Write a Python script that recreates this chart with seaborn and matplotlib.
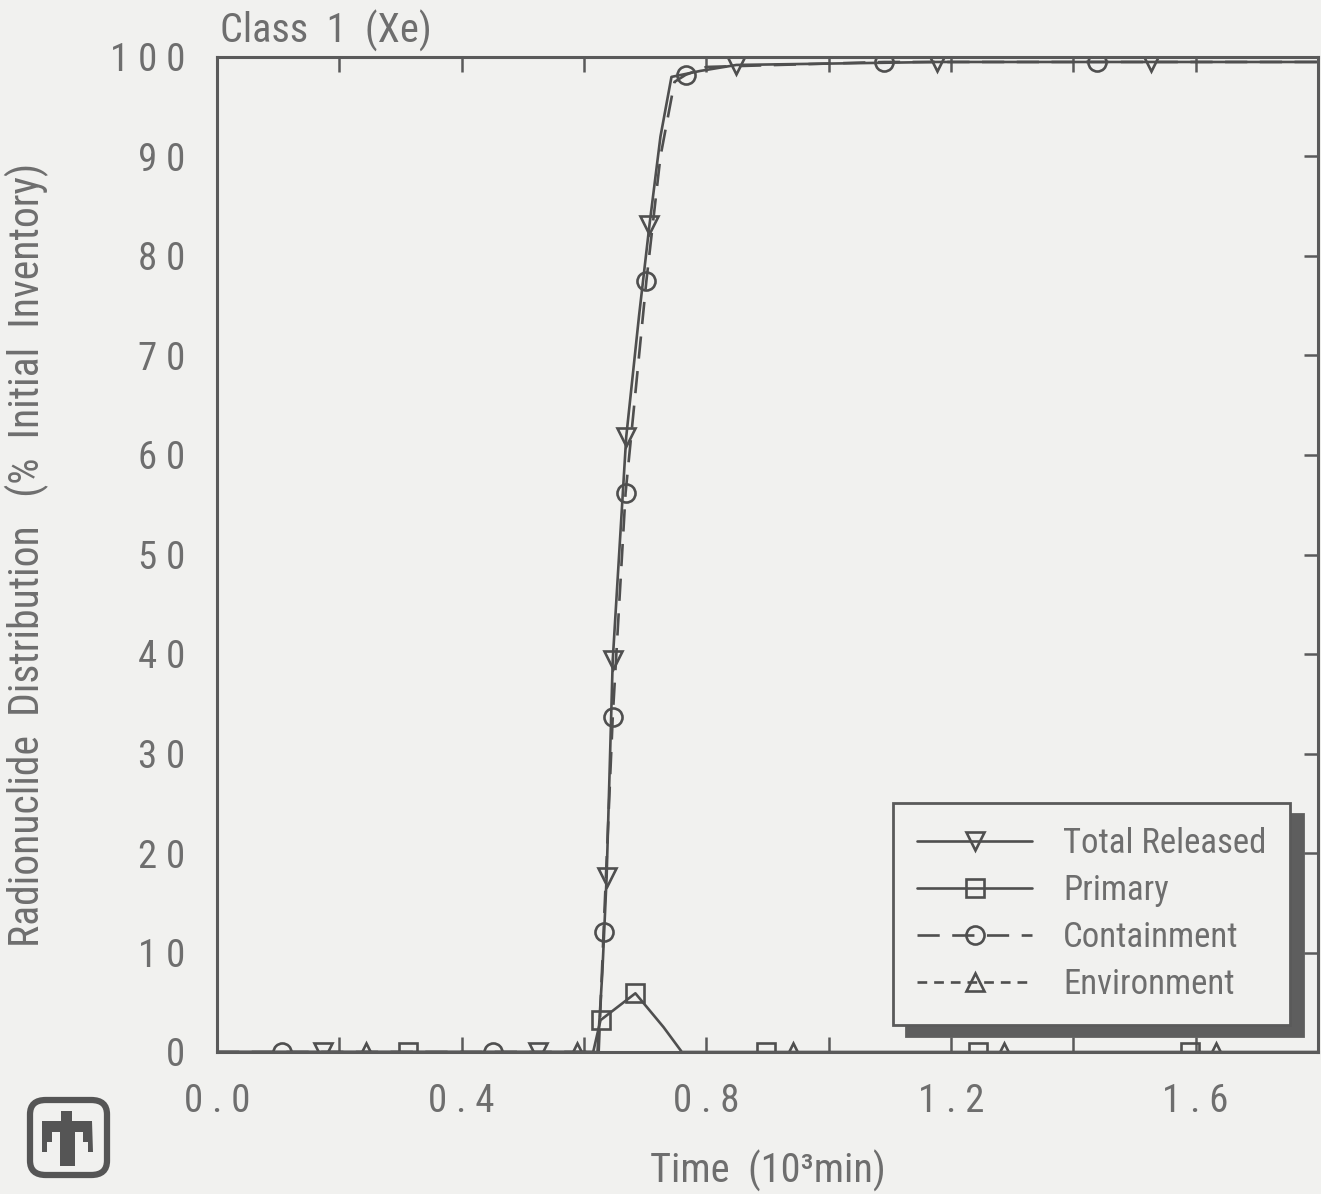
import matplotlib
matplotlib.use("Agg")
import matplotlib.pyplot as plt
from matplotlib import font_manager
from matplotlib.patches import FancyBboxPatch, Polygon
import seaborn as sns
import pandas as pd

# ---------------------------------------------------------------- data
# time in 10^3 min, value in % of initial inventory
total_t = [0.0, 0.173, 0.524, 0.622, 0.630, 0.637, 0.647, 0.669, 0.690, 0.707, 0.725, 0.743, 0.790, 0.849, 1.177, 1.527, 1.80]
total_v = [0.0, 0.0, 0.0, 0.0, 8.0, 17.6, 39.4, 61.8, 74.0, 83.1, 92.0, 98.0, 98.6, 99.2, 99.5, 99.5, 99.5]
total_marks = [1, 2, 5, 6, 7, 9, 13, 14, 15]

primary_t = [0.0, 0.312, 0.615, 0.627, 0.684, 0.730, 0.760, 0.898, 1.244, 1.590, 1.80]
primary_v = [0.0, 0.0, 0.0, 3.2, 5.9, 2.5, 0.0, 0.0, 0.0, 0.0, 0.0]
primary_marks = [1, 3, 4, 7, 8, 9]

contain_t = [0.0, 0.106, 0.451, 0.624, 0.632, 0.647, 0.668, 0.702, 0.725, 0.748, 0.766, 0.800, 1.091, 1.438, 1.80]
contain_v = [0.0, 0.0, 0.0, 0.0, 12.1, 33.7, 56.2, 77.5, 90.0, 97.5, 98.2, 99.0, 99.5, 99.5, 99.5]
contain_marks = [1, 2, 4, 5, 6, 7, 10, 12, 13]

env_t = [0.0, 0.243, 0.589, 0.942, 1.287, 1.633, 1.80]
env_v = [0.0, 0.0, 0.0, 0.0, 0.0, 0.0, 0.0]
env_marks = [1, 2, 3, 4, 5]

series_names = ["Total Released", "Primary", "Containment", "Environment"]

x_ticks = [0.0, 0.2, 0.4, 0.6, 0.8, 1.0, 1.2, 1.4, 1.6]
x_tick_labels = ["0 . 0", "", "0 . 4", "", "0 . 8", "", "1 . 2", "", "1 . 6"]
y_ticks = [0, 10, 20, 30, 40, 50, 60, 70, 80, 90, 100]
y_tick_labels = ["0", "1 0", "2 0", "3 0", "4 0", "5 0", "6 0", "7 0", "8 0", "9 0", "1 0 0"]

# ---------------------------------------------------------------- style
sns.set_theme(style="white")
available = {f.name for f in font_manager.fontManager.ttflist}
family = "DejaVu Sans"
for cand in ["Roboto Condensed", "Liberation Sans Narrow", "Open Sans Condensed"]:
    if cand in available:
        family = cand
        break
plt.rcParams["font.family"] = [family, "DejaVu Sans"]
plt.rcParams["lines.scale_dashes"] = False

BG = "#f1f1ef"
INK = "#4f4f4f"
TXT = "#6e6e6e"

fig = plt.figure(figsize=(13.21, 11.94), dpi=100, facecolor=BG)
ax = fig.add_axes([217 / 1321, 1 - 1052 / 1194, 1101 / 1321, 995 / 1194])
ax.set_facecolor(BG)

common = dict(color=INK, lw=1.9, markersize=13, markerfacecolor="none",
              markeredgecolor=INK, markeredgewidth=1.9, estimator=None, sort=False)

df_total = pd.DataFrame({"t": total_t, "v": total_v})
df_prim = pd.DataFrame({"t": primary_t, "v": primary_v})
df_cont = pd.DataFrame({"t": contain_t, "v": contain_v})
df_env = pd.DataFrame({"t": env_t, "v": env_v})

sns.lineplot(data=df_total, x="t", y="v", ax=ax, marker="v", markevery=total_marks,
             linestyle="-", label=series_names[0], **common)
sns.lineplot(data=df_prim, x="t", y="v", ax=ax, marker="s", markevery=primary_marks,
             linestyle="-", label=series_names[1], **common)
sns.lineplot(data=df_cont, x="t", y="v", ax=ax, marker="o", markevery=contain_marks,
             linestyle=(0, (16, 9)), label=series_names[2], **common)
sns.lineplot(data=df_env, x="t", y="v", ax=ax, marker="^", markevery=env_marks,
             linestyle=(0, (7, 5)), label=series_names[3], **common)

ax.set_xlim(0, 1.8)
ax.set_ylim(0, 100)

for s in ax.spines.values():
    s.set_color("#5a5a5a")
    s.set_linewidth(2.2)

ax.set_xticks(x_ticks)
ax.set_xticklabels(x_tick_labels)
ax.set_yticks(y_ticks)
ax.set_yticklabels(y_tick_labels)
ax.tick_params(axis="x", direction="in", top=True, bottom=True, length=11, width=1.8,
               color="#5a5a5a", pad=22, labelsize=28, labelcolor=TXT)
ax.tick_params(axis="y", direction="in", left=False, right=True, labelleft=True,
               length=10, width=1.8, color="#5a5a5a", pad=23, labelsize=28, labelcolor=TXT)

ax.set_xlabel("Time  (10³min)", fontsize=29, color=TXT)
ax.xaxis.set_label_coords(0.5, -0.098)
ax.set_ylabel("Radionuclide  Distribution   (%  Initial  Inventory)", fontsize=30,
              color=TXT)
ax.yaxis.set_label_coords(-0.153, 0.5)
fig.text(220 / 1321, 1 - 43 / 1194, "Class  1  (Xe)", fontsize=29, color=TXT,
         ha="left", va="baseline")

leg = ax.legend(loc="lower left", bbox_to_anchor=(0.614, 0.027, 0.3606, 0.22),
                mode="expand", borderaxespad=0, fontsize=25, labelcolor=TXT,
                frameon=True, fancybox=False, edgecolor="#5a5a5a", facecolor=BG,
                framealpha=1, handlelength=3.3, handletextpad=0.9, borderpad=0.7,
                labelspacing=0.4, numpoints=1,
                shadow={"ox": 9, "oy": -8, "color": "#5e5e5e", "alpha": 1})
leg.get_frame().set_linewidth(2.0)

# laboratory emblem in the lower-left corner
W, H = 1321, 1194
def fx(px):
    return px / W
def fy(py):
    return 1 - py / H

box = FancyBboxPatch((fx(30), fy(1175)), fx(107) - fx(30), fy(1100) - fy(1175),
                     boxstyle="round,pad=0,rounding_size=0.012",
                     transform=fig.transFigure, fill=False, edgecolor="#555555",
                     linewidth=4.5)
fig.patches.append(box)
bird = [(61, 1111), (72, 1111), (72, 1121), (92, 1121), (93, 1152), (88, 1152),
        (88, 1142), (83, 1142), (83, 1132), (75, 1132), (75, 1166), (60, 1166),
        (60, 1132), (52, 1132), (52, 1142), (47, 1142), (47, 1152), (42, 1152),
        (42, 1121), (61, 1121)]
fig.patches.append(Polygon([(fx(a), fy(b)) for a, b in bird], closed=True,
                           transform=fig.transFigure, facecolor="#555555",
                           edgecolor="none"))

fig.savefig("out.png", dpi=100, facecolor=BG)
